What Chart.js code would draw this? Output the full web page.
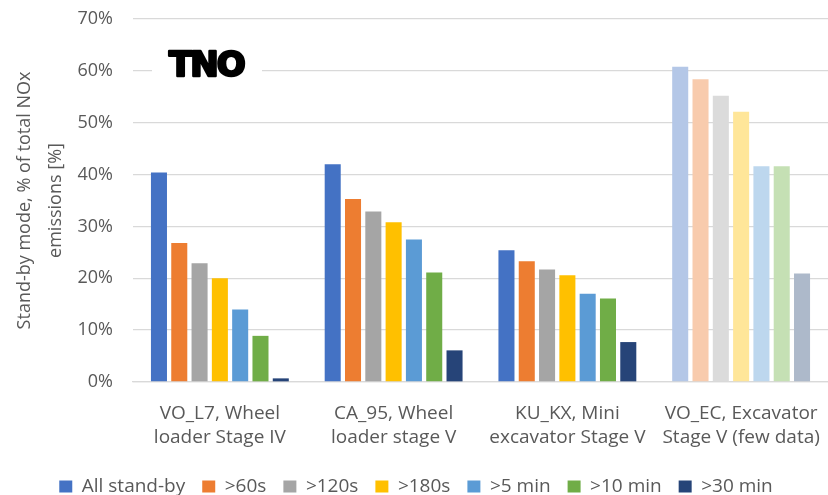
<!DOCTYPE html>
<html>
<head>
<meta charset="utf-8">
<script src="https://cdn.jsdelivr.net/npm/chart.js@4.4.1/dist/chart.umd.min.js"></script>
<style>
  html, body { margin: 0; padding: 0; background: #fff; }
  #wrap { width: 828px; height: 495px; position: relative; }
</style>
</head>
<body>
<div id="wrap"><canvas id="standbyChart"></canvas></div>
<script>
// machines (x categories), two text lines each
const machines = [
  ["VO_L7, Wheel", "loader Stage IV"],
  ["CA_95, Wheel", "loader stage V"],
  ["KU_KX, Mini", "excavator Stage V"],
  ["VO_EC, Excavator", "Stage V (few data)"],
];
const seriesNames = ["All stand-by", ">60s", ">120s", ">180s", ">5 min", ">10 min", ">30 min"];
// share of NOx in stand-by mode [%], one array per threshold
const allStandby = [40.4, 42.0, 25.4, 60.8];
const over60s = [26.8, 35.3, 23.3, 58.4];
const over120s = [22.9, 32.9, 21.7, 55.2];
const over180s = [20.0, 30.8, 20.6, 52.1];
const over5min = [14.0, 27.5, 17.0, 41.6];
const over10min = [8.9, 21.1, 16.1, 41.6];
const over30min = [0.7, 6.1, 7.7, 20.9];
const yTicks = [0, 10, 20, 30, 40, 50, 60, 70];

const seriesValues = [allStandby, over60s, over120s, over180s, over5min, over10min, over30min];
const strongColors = ["#4472C4", "#ED7D31", "#A5A5A5", "#FFC000", "#5B9BD5", "#70AD47", "#264478"];
// last machine has few data -> pale colours
const paleColors = ["#B4C7E7", "#F8CBAD", "#DBDBDB", "#FFE699", "#BDD7EE", "#C5E0B4", "#ADB9CA"];

const FONT = "'Open Sans'";
const GREY = "#595959";

// TNO logo in the upper left of the plot
const tnoLogo = {
  id: "tnoLogo",
  afterDraw(chart) {
    const ctx = chart.ctx;
    ctx.save();
    ctx.fillStyle = "#fff";
    ctx.fillRect(152, 48, 110, 34);
    ctx.fillStyle = "#000";
    ctx.strokeStyle = "#000";
    ctx.lineWidth = 2.5;
    ctx.lineJoin = "round";
    ctx.font = "bold 34px 'DejaVu Sans'";
    ctx.letterSpacing = "-2px";
    ctx.textBaseline = "alphabetic";
    ctx.fillText("TNO", 169, 76);
    ctx.strokeText("TNO", 169, 76);
    ctx.restore();
  },
};

new Chart(document.getElementById("standbyChart"), {
  type: "bar",
  data: {
    labels: machines,
    datasets: seriesNames.map((name, i) => ({
      label: name,
      data: seriesValues[i],
      backgroundColor: machines.map((m, j) => (j === machines.length - 1 ? paleColors[i] : strongColors[i])),
      borderWidth: 0,
      categoryPercentage: 0.818,
      barPercentage: 0.79,
    })),
  },
  options: {
    responsive: true,
    maintainAspectRatio: false,
    animation: false,
    layout: { padding: { top: 19, right: -4, left: 0, bottom: -11 } },
    plugins: {
      tooltip: { enabled: false },
      legend: {
        position: "bottom",
        labels: {
          font: { family: FONT, size: 19 },
          color: GREY,
          boxWidth: 13,
          boxHeight: 12,
          padding: 17,
          generateLabels(chart) {
            return chart.data.datasets.map((ds, i) => ({
              text: ds.label,
              fillStyle: strongColors[i],
              strokeStyle: strongColors[i],
              lineWidth: 0,
              datasetIndex: i,
              fontColor: GREY,
            }));
          },
        },
      },
    },
    scales: {
      x: {
        grid: { display: false, drawTicks: false },
        border: { color: "#d9d9d9", width: 1.3 },
        afterFit(scale) {
          scale.height = 78;
          scale.paddingLeft = 0;
          scale.paddingRight = 0;
        },
        ticks: {
          font: { family: FONT, size: 19, lineHeight: 1.3 },
          color: GREY,
          maxRotation: 0,
          padding: 19,
        },
      },
      y: {
        min: 0,
        max: 70,
        afterBuildTicks(scale) {
          scale.ticks = yTicks.map((v) => ({ value: v }));
        },
        afterFit(scale) {
          scale.width = 133;
          scale.paddingTop = 0;
          scale.paddingBottom = 0;
        },
        grid: { color: "#d9d9d9", lineWidth: 1.3, drawTicks: false },
        border: { display: false },
        ticks: {
          font: { family: FONT, size: 18 },
          color: GREY,
          padding: 20,
          callback: (v) => v + "%",
        },
        title: {
          display: true,
          text: ["Stand-by mode, % of total NOx", "emissions [%]"],
          font: { family: FONT, size: 18, lineHeight: 1.72 },
          color: GREY,
          padding: { top: 9, bottom: 0 },
        },
      },
    },
  },
  plugins: [tnoLogo],
});
</script>
</body>
</html>
